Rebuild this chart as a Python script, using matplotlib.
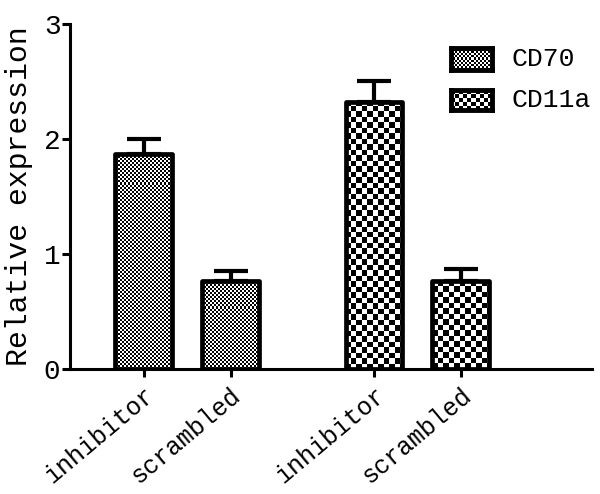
import numpy as np
import matplotlib
matplotlib.use('Agg')
import matplotlib.pyplot as plt

#************************DATA************************
tickLabels = ['inhibitor', 'scrambled', 'inhibitor', 'scrambled']
seriesNames = ['CD70', 'CD11a']
cd70Means = [1.87, 0.77]
cd70Errors = [0.13, 0.08]
cd11aMeans = [2.32, 0.77]
cd11aErrors = [0.19, 0.10]

#************************GLOBAL PARAMETERS************************
figWidth, figHeight = 6.0, 4.94
axPos = [0.117, 0.253, 0.870, 0.698]
barPositions = [0.0, 1.0, 2.65, 3.65]
barWidth = 0.655
edgeWidth = 3.4
fontName = 'Liberation Mono'
cellSizes = [2.0, 5.5]  #checker cell size in pixels, one per series

plt.rcParams['font.family'] = [fontName, 'DejaVu Sans']

def makeChecker(nRows, nCols):
	rows = np.arange(nRows) % 2
	cols = np.arange(nCols) % 2
	return (rows[:, None] + cols[None, :]) % 2

#************************PLOT************************
fig = plt.figure(figsize=(figWidth, figHeight), dpi=100)
ax = fig.add_axes(axPos)
ax.set_xlim(-0.845, 5.16)
ax.set_ylim(0, 3)
xLo, xHi = ax.get_xlim()
yLo, yHi = ax.get_ylim()
axPixW = axPos[2] * figWidth * 100
axPixH = axPos[3] * figHeight * 100

means = cd70Means + cd11aMeans
errors = cd70Errors + cd11aErrors
seriesIdx = [0, 0, 1, 1]

bars = ax.bar(barPositions, means, width=barWidth, facecolor='none', edgecolor='black',
	linewidth=edgeWidth, zorder=3, joinstyle='round')
ax.errorbar(barPositions, means, yerr=[[0] * len(means), errors], fmt='none', ecolor='black',
	elinewidth=3, capsize=12, capthick=3, zorder=1.5)

for bar, sIdx in zip(bars, seriesIdx):
	cell = cellSizes[sIdx]
	nCols = int(round(axPixW / cell))
	nRows = int(round(axPixH / cell))
	img = ax.imshow(makeChecker(nRows, nCols), cmap='gray', interpolation='nearest',
		extent=(xLo, xHi, yLo, yHi), aspect='auto', zorder=2, vmin=0, vmax=1)
	img.set_clip_path(bar)
ax.set_xlim(xLo, xHi)
ax.set_ylim(yLo, yHi)

#axes style
for side in ['top', 'right']:
	ax.spines[side].set_visible(False)
for side in ['left', 'bottom']:
	ax.spines[side].set_linewidth(2.2)
ax.set_yticks([0, 1, 2, 3])
ax.set_xticks(barPositions)
ax.set_xticklabels(tickLabels, rotation=40, ha='right', rotation_mode='anchor', fontsize=18)
ax.tick_params(axis='both', width=2.2, length=6, labelsize=20)
ax.tick_params(axis='x', labelsize=18, pad=4)
ax.tick_params(axis='y', pad=1)
ax.set_ylabel('Relative expression', fontsize=21.5, labelpad=8)

#legend
legendBoxes = [[0.730, 0.867, 0.0785, 0.064], [0.730, 0.751, 0.0785, 0.058]]
legendCells = [2.0, 4.0]
for box, name, cell in zip(legendBoxes, seriesNames, legendCells):
	lax = ax.inset_axes(box)
	nCols = int(round(box[2] * axPixW / cell))
	nRows = int(round(box[3] * axPixH / cell))
	lax.imshow(makeChecker(nRows, nCols), cmap='gray', interpolation='nearest', aspect='auto')
	lax.set_xticks([])
	lax.set_yticks([])
	for sp in lax.spines.values():
		sp.set_linewidth(3.5)
	ax.text(0.845, box[1] + box[3] / 2, name, transform=ax.transAxes, fontsize=19,
		va='center', ha='left')

fig.savefig('out.png', dpi=100)
